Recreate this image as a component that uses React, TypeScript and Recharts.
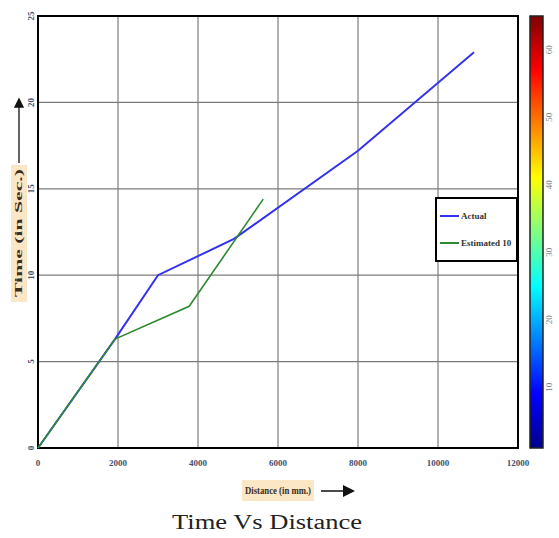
import React from "react";
import {
  LineChart,
  Line,
  XAxis,
  YAxis,
  CartesianGrid,
  ReferenceArea,
  Legend,
} from "recharts";

// values
const actualDistance = [0, 1925, 3000, 4900, 8000, 10900];
const actualTime = [0, 6.3, 10, 12.1, 17.2, 22.9];
const estimatedDistance = [0, 1925, 3780, 5630];
const estimatedTime = [0, 6.3, 8.2, 14.4];

const xTicks = [0, 2000, 4000, 6000, 8000, 10000, 12000];
const yTicks = [0, 5, 10, 15, 20, 25];
const colorbarTicks = [10, 20, 30, 40, 50, 60];

const seriesNames = ["Actual", "Estimated 10"];
const seriesColors = ["#3333ee", "#2f8a2f"];

const actualData = actualDistance.map((x, i) => ({ x, t: actualTime[i] }));
const estimatedData = estimatedDistance.map((x, i) => ({ x, t: estimatedTime[i] }));

const W = 559;
const H = 538;
const serif = "'Liberation Serif', 'DejaVu Serif', serif";

function XTick(props: any) {
  const { x, y, payload } = props;
  return (
    <text
      x={x}
      y={y + 10}
      textAnchor="middle"
      fontSize={9}
      fontWeight="bold"
      fontFamily={serif}
      fill="#44506a"
    >
      {payload.value}
    </text>
  );
}

function YTick(props: any) {
  const { y, payload } = props;
  return (
    <text
      x={0}
      y={0}
      transform={`translate(34, ${y}) rotate(-90)`}
      textAnchor="middle"
      fontSize={9}
      fontWeight="bold"
      fontFamily={serif}
      fill="#44506a"
    >
      {payload.value}
    </text>
  );
}

function CbTick(props: any) {
  const { y, payload } = props;
  return (
    <text
      x={0}
      y={0}
      transform={`translate(552, ${y}) rotate(-90)`}
      textAnchor="middle"
      fontSize={9}
      fontFamily={serif}
      fill="#808080"
    >
      {payload.value}
    </text>
  );
}

function LegendBox() {
  return (
    <div
      style={{
        border: "2px solid #000",
        background: "#fff",
        width: 79,
        height: 61,
        boxSizing: "content-box",
        fontFamily: serif,
        fontSize: 9,
        fontWeight: "bold",
        color: "#333",
      }}
    >
      {seriesNames.map((name, i) => (
        <div
          key={name}
          style={{
            display: "flex",
            alignItems: "center",
            marginTop: i === 0 ? 12 : 17,
            marginLeft: 3,
          }}
        >
          <div style={{ width: 19, height: 2, background: seriesColors[i], marginRight: 2 }} />
          <span>{name}</span>
        </div>
      ))}
    </div>
  );
}

export default function App() {
  return (
    <div style={{ position: "absolute", left: 0, top: 0, width: W, height: H, background: "#fff" }}>
      <LineChart
        width={W}
        height={H}
        margin={{ top: 16, right: 0, left: 0, bottom: 0 }}
      >
        <CartesianGrid yAxisId="left" stroke="#7c7c7c" strokeWidth={1.2} />
        <XAxis
          type="number"
          dataKey="x"
          domain={[0, 12000]}
          ticks={xTicks}
          height={90}
          tick={<XTick />}
          tickLine={false}
          axisLine={false}
          allowDuplicatedCategory={false}
        />
        <YAxis
          yAxisId="left"
          type="number"
          domain={[0, 25]}
          ticks={yTicks}
          width={38}
          tick={<YTick />}
          tickLine={false}
          axisLine={false}
        />
        <YAxis
          yAxisId="cb"
          orientation="right"
          type="number"
          domain={[1, 65]}
          allowDataOverflow
          ticks={colorbarTicks}
          width={41}
          tick={<CbTick />}
          tickLine={false}
          axisLine={false}
        />
        <ReferenceArea
          yAxisId="left"
          x1={0}
          x2={12000}
          y1={0}
          y2={25}
          fill="none"
          stroke="#000"
          strokeWidth={2}
          ifOverflow="visible"
        />
        <Line
          yAxisId="left"
          data={actualData}
          dataKey="t"
          name={seriesNames[0]}
          stroke={seriesColors[0]}
          strokeWidth={2}
          dot={false}
          isAnimationActive={false}
        />
        <Line
          yAxisId="left"
          data={estimatedData}
          dataKey="t"
          name={seriesNames[1]}
          stroke={seriesColors[1]}
          strokeWidth={1.6}
          dot={false}
          isAnimationActive={false}
        />
        <Legend
          layout="vertical"
          align="center"
          verticalAlign="middle"
          content={() => <LegendBox />}
          wrapperStyle={{ left: 435, top: 197, width: 83, height: 65 }}
        />
      </LineChart>

      <svg
        width={W}
        height={H}
        style={{ position: "absolute", left: 0, top: 0, pointerEvents: "none" }}
      >
        <defs>
          <linearGradient id="jet" x1="0" y1="1" x2="0" y2="0">
            <stop offset="0" stopColor="#00008f" />
            <stop offset="0.125" stopColor="#0000ff" />
            <stop offset="0.375" stopColor="#00ffff" />
            <stop offset="0.625" stopColor="#ffff00" />
            <stop offset="0.875" stopColor="#ff0000" />
            <stop offset="1" stopColor="#800000" />
          </linearGradient>
          <marker id="arr" markerWidth="8" markerHeight="8" refX="6" refY="4" orient="auto">
            <path d="M0,0 L8,4 L0,8 z" fill="#111" />
          </marker>
        </defs>

        {/* colorbar */}
        <rect x={530} y={16} width={13} height={432} fill="url(#jet)" stroke="#222" strokeWidth={1.5} />

        {/* y axis label */}
        <rect x={11} y={165} width={16} height={137} fill="#fbe6c6" />
        <text
          transform="translate(22, 233) rotate(-90)"
          textAnchor="middle"
          fontFamily={serif}
          fontSize={10}
          fontWeight="bold"
          fill="#3a2e1e"
          textLength={128}
          lengthAdjust="spacingAndGlyphs"
        >
          Time (in Sec.)
        </text>
        <line x1={19} y1={163} x2={19} y2={100} stroke="#111" strokeWidth={1.3} markerEnd="url(#arr)" />

        {/* x axis label */}
        <rect x={242} y={480} width={72} height={21} fill="#fbe6c6" />
        <text
          x={278}
          y={494}
          textAnchor="middle"
          fontFamily={serif}
          fontSize={10}
          fontWeight="bold"
          fill="#3a2e1e"
          textLength={66}
          lengthAdjust="spacingAndGlyphs"
        >
          Distance (in mm.)
        </text>
        <line x1={321} y1={491} x2={352} y2={491} stroke="#111" strokeWidth={1.5} markerEnd="url(#arr)" />

        {/* title */}
        <text
          x={267}
          y={529}
          textAnchor="middle"
          fontFamily={serif}
          fontSize={20}
          fill="#222"
          textLength={190}
          lengthAdjust="spacingAndGlyphs"
        >
          Time Vs Distance
        </text>
      </svg>
    </div>
  );
}
